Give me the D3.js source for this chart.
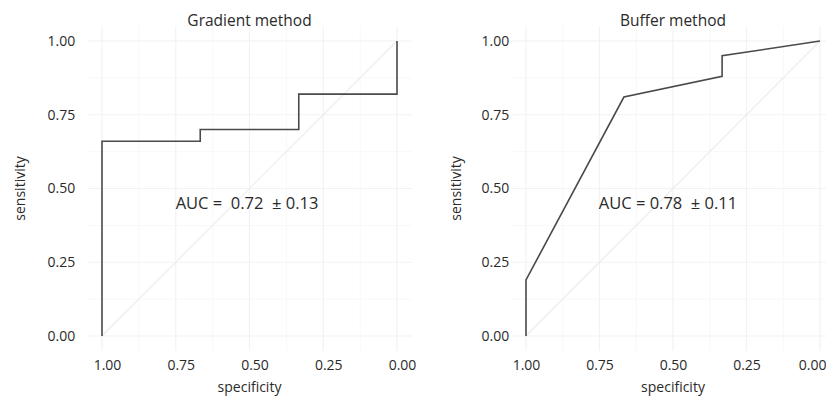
<!DOCTYPE html>
<html lang="en">
<head>
<meta charset="utf-8">
<title>ROC curves</title>
<style>
  body { margin: 0; background: #fff; }
  text { font-family: "Open Sans", "Liberation Sans", sans-serif; fill: #2a2a2a; }
</style>
</head>
<body>
<script src="https://cdn.jsdelivr.net/npm/d3@7"></script>
<script>
// data
var tickValues = [1, 0.75, 0.5, 0.25, 0];
var minorTicks = [0.875, 0.625, 0.375, 0.125];

var gradSpec = [1, 1, 0.667, 0.667, 0.333, 0.333, 0, 0];
var gradSens = [0, 0.66, 0.66, 0.70, 0.70, 0.82, 0.82, 1];

var bufSpec = [1, 1, 0.667, 0.333, 0.333, 0];
var bufSens = [0, 0.19, 0.81, 0.88, 0.95, 1];

var titles = ["Gradient method", "Buffer method"];
var aucText = ["AUC =  0.72  \u00b1 0.13", "AUC = 0.78  \u00b1 0.11"];

var w = 826, h = 397;
var svg = d3.select("body").append("svg").attr("width", w).attr("height", h);

var fmt = d3.format(".2f");

function drawPanel(cfg) {
  var x = d3.scaleLinear().domain([1, 0]).range(cfg.xr);
  var y = d3.scaleLinear().domain([0, 1]).range(cfg.yr);
  var padX = (cfg.xr[1] - cfg.xr[0]) * 0.05;
  var padY = (cfg.yr[0] - cfg.yr[1]) * 0.05;
  var px0 = cfg.xr[0] - padX, px1 = cfg.xr[1] + padX;
  var py0 = cfg.yr[1] - padY, py1 = cfg.yr[0] + padY;

  var g = svg.append("g");

  // minor grid
  g.selectAll(".minx").data(minorTicks).enter().append("line")
    .attr("x1", d => x(d)).attr("x2", d => x(d)).attr("y1", py0).attr("y2", py1)
    .attr("stroke", "#f8f8f8").attr("stroke-width", 1);
  g.selectAll(".miny").data(minorTicks).enter().append("line")
    .attr("y1", d => y(d)).attr("y2", d => y(d)).attr("x1", px0).attr("x2", px1)
    .attr("stroke", "#f8f8f8").attr("stroke-width", 1);
  // major grid
  g.selectAll(".majx").data(tickValues).enter().append("line")
    .attr("x1", d => x(d)).attr("x2", d => x(d)).attr("y1", py0).attr("y2", py1)
    .attr("stroke", "#f2f2f2").attr("stroke-width", 1.2);
  g.selectAll(".majy").data(tickValues).enter().append("line")
    .attr("y1", d => y(d)).attr("y2", d => y(d)).attr("x1", px0).attr("x2", px1)
    .attr("stroke", "#f2f2f2").attr("stroke-width", 1.2);

  // chance diagonal
  g.append("line")
    .attr("x1", x(1)).attr("y1", y(0)).attr("x2", x(0)).attr("y2", y(1))
    .attr("stroke", "#ececec").attr("stroke-width", 1.2);

  // roc curve
  var pts = cfg.spec.map((s, i) => [s, cfg.sens[i]]);
  g.append("path")
    .datum(pts)
    .attr("d", d3.line().x(d => x(d[0])).y(d => y(d[1])))
    .attr("fill", "none").attr("stroke", "#4a4a4a").attr("stroke-width", 1.6);

  // axes (labels only)
  var xAxis = g.append("g")
    .attr("transform", `translate(0,${py1})`)
    .call(d3.axisBottom(x).tickValues(tickValues).tickFormat(fmt).tickSize(0).tickPadding(9));
  var yAxis = g.append("g")
    .attr("transform", `translate(${px0},0)`)
    .call(d3.axisLeft(y).tickValues(tickValues).tickFormat(fmt).tickSize(0).tickPadding(cfg.yPad));
  [xAxis, yAxis].forEach(a => {
    a.select(".domain").remove();
    a.selectAll("text").attr("font-size", 14).attr("fill", "#333")
      .attr("font-family", "'Open Sans', sans-serif");
  });
  xAxis.selectAll("text").attr("dx", cfg.xLabDx);
  // keep the last label inside the page on the right panel
  if (cfg.clampLast) {
    xAxis.selectAll(".tick").filter(d => d === 0).select("text")
      .attr("text-anchor", "end").attr("x", w - x(0));
  }

  g.append("text").text(cfg.title)
    .attr("x", (px0 + px1) / 2).attr("y", 26).attr("text-anchor", "middle")
    .attr("font-size", 15.5);
  g.append("text").text("specificity")
    .attr("x", (px0 + px1) / 2).attr("y", 392).attr("text-anchor", "middle")
    .attr("font-size", 14);
  g.append("text").text("sensitivity")
    .attr("transform", `translate(${cfg.ylabX},${(py0 + py1) / 2}) rotate(-90)`)
    .attr("text-anchor", "middle").attr("font-size", 14);
  g.append("text").text(cfg.auc)
    .attr("x", cfg.aucX).attr("y", 209).attr("text-anchor", "middle")
    .attr("font-size", 16.5).attr("xml:space", "preserve").style("white-space", "pre");
}

drawPanel({ xr: [102, 397], yr: [336, 41], spec: gradSpec, sens: gradSens,
  title: titles[0], auc: aucText[0], aucX: 247, yPad: 12, ylabX: 25, xLabDx: 5, clampLast: false });
drawPanel({ xr: [526, 820], yr: [336, 41], spec: bufSpec, sens: bufSens,
  title: titles[1], auc: aucText[1], aucX: 668, yPad: 2, ylabX: 461, xLabDx: 0, clampLast: true });
</script>
</body>
</html>
